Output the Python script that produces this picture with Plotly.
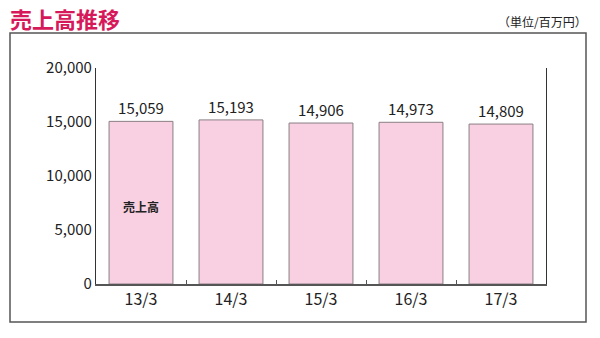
import plotly.graph_objects as go

categories = ["13/3", "14/3", "15/3", "16/3", "17/3"]
sales = [15059, 15193, 14906, 14973, 14809]
y_ticks = [0, 5000, 10000, 15000, 20000]

FONT = "Noto Sans CJK JP"

L, R, T, B = 96, 546, 68, 284
PW, PH = R - L, B - T


def px(x):
    return (x - L) / PW


def py(y):
    return (B - y) / PH


fig = go.Figure()
fig.add_trace(go.Bar(
    x=categories, y=sales,
    width=0.71,
    marker=dict(color="#F8D0E2", line=dict(color="#8a7f84", width=1)),
    text=[f"{v:,}" for v in sales],
    textposition="outside",
    textfont=dict(family=FONT, size=15, color="#222222"),
    cliponaxis=False,
    hoverinfo="skip",
))

fig.update_layout(
    width=600, height=338,
    margin=dict(l=L, r=600 - R, t=T, b=338 - B),
    paper_bgcolor="white", plot_bgcolor="white",
    showlegend=False,
    font=dict(family=FONT, size=15, color="#222222"),
    xaxis=dict(
        type="category", showline=True, linecolor="#555555", linewidth=1.5,
        ticks="inside", ticklen=4, tickcolor="#555555", tickson="boundaries",
        showgrid=False, tickfont=dict(size=16, color="#222222"),
    ),
    yaxis=dict(
        range=[0, 20000], tickvals=y_ticks, tickformat=",d",
        showline=True, linecolor="#333333", linewidth=1.2, mirror=True,
        showgrid=False, zeroline=False, ticks="",
        tickfont=dict(size=15, color="#222222"),
    ),
    shapes=[dict(type="rect", xref="paper", yref="paper",
                 x0=px(10), x1=px(586), y0=py(322), y1=py(33),
                 line=dict(color="#555555", width=1.5), fillcolor="rgba(0,0,0,0)",
                 layer="below")],
    annotations=[
        dict(text="<b>売上高推移</b>", xref="paper", yref="paper",
             x=px(8), y=py(18), xanchor="left", yanchor="middle",
             showarrow=False, font=dict(family=FONT, size=22, color="#D6195A")),
        dict(text="（単位/百万円）", xref="paper", yref="paper",
             x=px(589), y=py(21), xanchor="right", yanchor="middle",
             showarrow=False, font=dict(family=FONT, size=12, color="#222222")),
        dict(text="<b>売上高</b>", xref="x", yref="y", x=categories[0], y=7200,
             showarrow=False, font=dict(family=FONT, size=12, color="#222222")),
    ],
)

fig.write_html("out.html")
